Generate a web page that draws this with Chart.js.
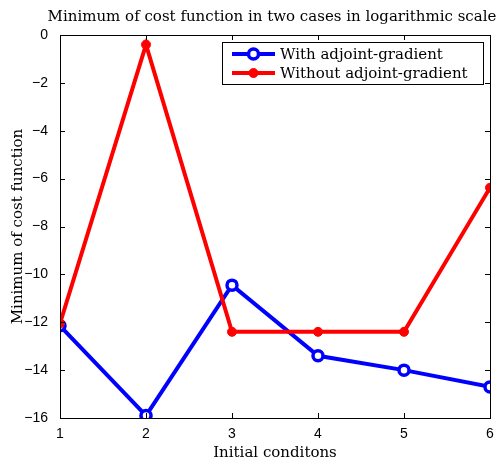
<!DOCTYPE html>
<html>
<head>
<meta charset="utf-8">
<script src="https://cdn.jsdelivr.net/npm/chart.js@4.4.0/dist/chart.umd.min.js"></script>
<style>
    html, body { margin: 0; padding: 0; background: #fff; }
    #wrap { width: 500px; height: 462px; }
</style>
</head>
<body>
<div id="wrap"><canvas id="costChart"></canvas></div>
<script>
// Data
const conditions = [1, 2, 3, 4, 5, 6];
const withAdjoint = [-12.15, -15.9, -10.45, -13.4, -14.0, -14.7];
const withoutAdjoint = [-12.05, -0.4, -12.4, -12.4, -12.4, -6.38];
const yTicks = [-16, -14, -12, -10, -8, -6, -4, -2, 0];
const chartTitle = 'Minimum of cost function in two cases in logarithmic scale';

const serif = '"DejaVu Serif", "Liberation Serif", serif';
const sans = '"Liberation Sans", Arial, sans-serif';

// frame + inward tick marks on all four sides, title over the plot area
const frameTicks = {
    id: 'frameTicks',
    afterDatasetsDraw(chart) {
        const { ctx, chartArea: a, scales } = chart;
        ctx.save();
        ctx.strokeStyle = '#000';
        ctx.lineWidth = 1;
        ctx.strokeRect(a.left + 0.5, a.top + 0.5, a.right - a.left, a.bottom - a.top);
        const len = 5;
        ctx.beginPath();
        conditions.forEach(v => {
            const x = Math.round(scales.x.getPixelForValue(v)) + 0.5;
            ctx.moveTo(x, a.bottom); ctx.lineTo(x, a.bottom - len);
            ctx.moveTo(x, a.top); ctx.lineTo(x, a.top + len);
        });
        yTicks.forEach(v => {
            const y = Math.round(scales.y.getPixelForValue(v)) + 0.5;
            ctx.moveTo(a.left, y); ctx.lineTo(a.left + len, y);
            ctx.moveTo(a.right, y); ctx.lineTo(a.right - len, y);
        });
        ctx.stroke();

        ctx.fillStyle = '#000';
        ctx.font = '15px ' + serif;
        ctx.textAlign = 'center';
        ctx.textBaseline = 'middle';
        ctx.fillText(chartTitle, (a.left + a.right) / 2 - 3, a.top - 18);
        ctx.restore();
    }
};

// boxed legend in the upper right corner of the plot
const boxLegend = {
    id: 'boxLegend',
    afterDraw(chart) {
        const { ctx, chartArea: a } = chart;
        const left = a.left + 162, top = a.top + 7, w = 261, h = 42;
        ctx.save();
        ctx.fillStyle = '#fff';
        ctx.fillRect(left, top, w, h);
        ctx.strokeStyle = '#000';
        ctx.lineWidth = 1;
        ctx.strokeRect(left + 0.5, top + 0.5, w, h);
        chart.data.datasets.forEach((ds, i) => {
            const y = top + 12 + i * 19;
            ctx.strokeStyle = ds.borderColor;
            ctx.lineWidth = 4;
            ctx.beginPath();
            ctx.moveTo(left + 10, y);
            ctx.lineTo(left + 53, y);
            ctx.stroke();
            ctx.beginPath();
            ctx.arc(left + 31.5, y, ds.pointRadius, 0, Math.PI * 2);
            ctx.fillStyle = ds.pointBackgroundColor;
            ctx.fill();
            ctx.lineWidth = ds.pointBorderWidth;
            ctx.stroke();
            ctx.fillStyle = '#000';
            ctx.font = '15px ' + serif;
            ctx.textBaseline = 'middle';
            ctx.fillText(ds.label, left + 58, y + 1);
        });
        ctx.restore();
    }
};

function minus(v) {
    return String(v).replace('-', '\u2212');
}

new Chart(document.getElementById('costChart'), {
    type: 'line',
    data: {
        datasets: [{
            label: 'With adjoint-gradient',
            data: conditions.map((c, i) => ({ x: c, y: withAdjoint[i] })),
            borderColor: '#0000ff',
            pointBackgroundColor: '#ffffff',
            pointBorderColor: '#0000ff',
            pointBorderWidth: 3.5,
            pointRadius: 5,
            borderWidth: 4,
            tension: 0,
            order: 1
        }, {
            label: 'Without adjoint-gradient',
            data: conditions.map((c, i) => ({ x: c, y: withoutAdjoint[i] })),
            borderColor: '#ff0000',
            pointBackgroundColor: '#ff0000',
            pointBorderColor: '#ff0000',
            pointBorderWidth: 1,
            pointRadius: 4.5,
            borderWidth: 4,
            tension: 0,
            order: 0
        }]
    },
    options: {
        responsive: true,
        maintainAspectRatio: false,
        animation: false,
        layout: { padding: { top: 35, right: 10, left: 0, bottom: 0 } },
        plugins: {
            legend: { display: false },
            tooltip: { enabled: false },
            title: { display: false }
        },
        scales: {
            x: {
                type: 'linear',
                min: 1,
                max: 6,
                afterBuildTicks: s => { s.ticks = conditions.map(v => ({ value: v })); },
                afterFit: s => { s.height = 44; },
                grid: { display: false },
                border: { display: false },
                ticks: {
                    color: '#000',
                    font: { family: sans, size: 14 },
                    padding: 0,
                    maxRotation: 0
                },
                title: {
                    display: true,
                    text: 'Initial conditons',
                    color: '#000',
                    font: { family: serif, size: 15 },
                    padding: { top: 0, bottom: 0 }
                }
            },
            y: {
                min: -16,
                max: 0,
                afterBuildTicks: s => { s.ticks = yTicks.map(v => ({ value: v })); },
                afterFit: s => { s.width = 60; },
                grid: { display: false },
                border: { display: false },
                ticks: {
                    color: '#000',
                    font: { family: sans, size: 14 },
                    padding: 4,
                    callback: v => minus(v)
                },
                title: {
                    display: true,
                    text: 'Minimum of cost function',
                    color: '#000',
                    font: { family: serif, size: 15 },
                    padding: { top: 9, bottom: 2 }
                }
            }
        }
    },
    plugins: [frameTicks, boxLegend]
});
</script>
</body>
</html>
